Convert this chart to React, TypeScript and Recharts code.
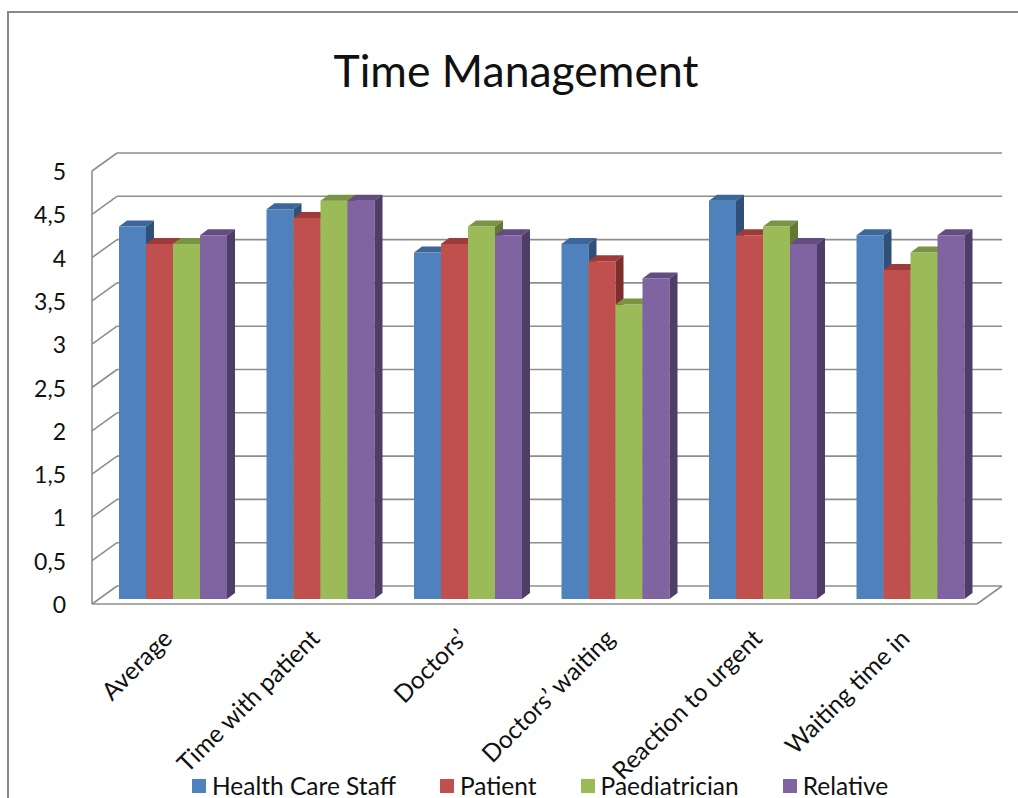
import { Bar, BarChart, CartesianGrid, Legend, XAxis, YAxis } from "recharts";

const categories = [
  "Average",
  "Time with patient",
  "Doctors’",
  "Doctors’ waiting",
  "Reaction to urgent",
  "Waiting time in",
];
const healthCareStaff = [4.3, 4.5, 4.0, 4.1, 4.6, 4.2];
const patient = [4.1, 4.4, 4.1, 3.9, 4.2, 3.8];
const paediatrician = [4.1, 4.6, 4.3, 3.4, 4.3, 4.0];
const relative = [4.2, 4.6, 4.2, 3.7, 4.1, 4.2];
const yTicks = [0, 0.5, 1, 1.5, 2, 2.5, 3, 3.5, 4, 4.5, 5];

type Tone = { key: string; name: string; front: string; top: string; side: string };

const series: Tone[] = [
  { key: "hcs", name: "Health Care Staff", front: "#4F81BD", top: "#3D6799", side: "#2E5079" },
  { key: "pat", name: "Patient", front: "#C0504D", top: "#9C3B39", side: "#7F2E2C" },
  { key: "pae", name: "Paediatrician", front: "#9BBB59", top: "#7A9444", side: "#627835" },
  { key: "rel", name: "Relative", front: "#8064A2", top: "#634D80", side: "#4E3D66" },
];

const rows = categories.map((name, i) => ({
  name,
  hcs: healthCareStaff[i],
  pat: patient[i],
  pae: paediatrician[i],
  rel: relative[i],
}));

// fake-3D geometry: floor/wall offsets relative to the bar plane
const W = 1018;
const H = 798;
const PLOT_LEFT = 99;
const PLOT_RIGHT = 984;
const PLOT_TOP = 166;
const PLOT_BOTTOM = 599;
const FRONT = { dx: -7, dy: 5 };
const BACK = { dx: 18, dy: -13 };
const BAR_DEPTH = { dx: 8, dy: -6 };
const LEGEND_H = 26;
const GRID = "#8E8E8E";
const FONT = "Lato, 'Open Sans', sans-serif";

function Bar3D(props: any) {
  const { x, y, width, height, tone } = props;
  if (!height || height <= 0) return null;
  const { dx, dy } = BAR_DEPTH;
  const r = x + width;
  const b = y + height;
  return (
    <g>
      <rect x={x} y={y} width={width} height={height} fill={tone.front} />
      <polygon points={`${x},${y} ${x + dx},${y + dy} ${r + dx},${y + dy} ${r},${y}`} fill={tone.top} />
      <polygon points={`${r},${y} ${r + dx},${y + dy} ${r + dx},${b + dy} ${r},${b}`} fill={tone.side} />
    </g>
  );
}

function WallLine(props: any) {
  const { x1, x2, y1, stroke } = props;
  const isFloor = y1 >= PLOT_BOTTOM - 0.5;
  const fx1 = x1 + FRONT.dx;
  const fy = y1 + FRONT.dy;
  const bx1 = x1 + BACK.dx;
  const bx2 = x2 + BACK.dx;
  const by = y1 + BACK.dy;
  const sw = 1.6;
  return (
    <g>
      <line x1={bx1} y1={by} x2={bx2} y2={by} stroke={stroke} strokeWidth={sw} />
      <line x1={fx1} y1={fy} x2={bx1} y2={by} stroke={stroke} strokeWidth={sw} />
      {isFloor && (
        <>
          <line x1={fx1} y1={fy} x2={x2 + FRONT.dx} y2={fy} stroke={stroke} strokeWidth={sw} />
          <line x1={x2 + FRONT.dx} y1={fy} x2={bx2} y2={by} stroke={stroke} strokeWidth={sw} />
          <line
            x1={fx1}
            y1={fy}
            x2={fx1}
            y2={fy - (PLOT_BOTTOM - PLOT_TOP)}
            stroke={stroke}
            strokeWidth={sw}
          />
        </>
      )}
    </g>
  );
}

function YTick(props: any) {
  const { y, payload } = props;
  return (
    <text
      x={PLOT_LEFT + FRONT.dx - 26}
      y={y + FRONT.dy}
      textAnchor="end"
      dominantBaseline="central"
      fontSize={23}
      fill="#111"
      fontFamily={FONT}
    >
      {String(payload.value).replace(".", ",")}
    </text>
  );
}

function XTick(props: any) {
  const { x, payload } = props;
  const ax = x + 1;
  const ay = PLOT_BOTTOM + 41;
  return (
    <text
      x={ax}
      y={ay}
      textAnchor="end"
      transform={`rotate(-45 ${ax} ${ay})`}
      fontSize={24.5}
      fill="#111"
      fontFamily={FONT}
    >
      {payload.value}
    </text>
  );
}

function LegendRow() {
  return (
    <div style={{ display: "flex", alignItems: "center", whiteSpace: "nowrap" }}>
      {series.map((s) => (
        <div key={s.key} style={{ display: "flex", alignItems: "center", marginRight: 44 }}>
          <span style={{ width: 14, height: 14, background: s.front, marginRight: 6, display: "inline-block" }} />
          <span>{s.name}</span>
        </div>
      ))}
    </div>
  );
}

export default function App() {
  return (
    <div
      style={{
        position: "absolute",
        left: 0,
        top: 0,
        width: W,
        height: H,
        overflow: "hidden",
        background: "#fff",
        fontFamily: FONT,
        color: "#111",
      }}
    >
      <style>{"html, body { margin: 0; overflow: hidden; }"}</style>
      <div
        style={{
          position: "absolute",
          left: 7,
          top: 11,
          width: W + 20,
          height: H + 20,
          borderTop: "2px solid #8A8A8A",
          borderLeft: "2px solid #8A8A8A",
        }}
      />
      <div
        style={{
          position: "absolute",
          left: 14,
          width: W - 14,
          top: 41,
          textAlign: "center",
          fontSize: 44.5,
          lineHeight: "58px",
        }}
      >
        Time Management
      </div>
      <div style={{ position: "absolute", left: 0, top: 0 }}>
        <BarChart
          width={W}
          height={H}
          data={rows}
          margin={{ top: PLOT_TOP, right: W - PLOT_RIGHT, left: 0, bottom: 0 }}
          barCategoryGap={20}
          barGap={0}
        >
          <CartesianGrid vertical={false} stroke={GRID} horizontal={(p: any) => <WallLine key={p.key} {...p} />} />
          <XAxis
            dataKey="name"
            axisLine={false}
            tickLine={false}
            interval={0}
            height={H - PLOT_BOTTOM - LEGEND_H}
            tick={<XTick />}
          />
          <YAxis
            domain={[0, 5]}
            ticks={yTicks}
            axisLine={false}
            tickLine={false}
            width={PLOT_LEFT}
            tick={<YTick />}
          />
          <Legend
            verticalAlign="bottom"
            height={LEGEND_H}
            content={() => <LegendRow />}
            wrapperStyle={{ left: 192, bottom: -1, width: "auto", fontSize: 24.5, lineHeight: `${LEGEND_H}px` }}
          />
          {series.map((s) => (
            <Bar
              key={s.key}
              dataKey={s.key}
              name={s.name}
              fill={s.front}
              isAnimationActive={false}
              shape={(p: any) => <Bar3D {...p} tone={s} />}
            />
          ))}
        </BarChart>
      </div>
    </div>
  );
}
